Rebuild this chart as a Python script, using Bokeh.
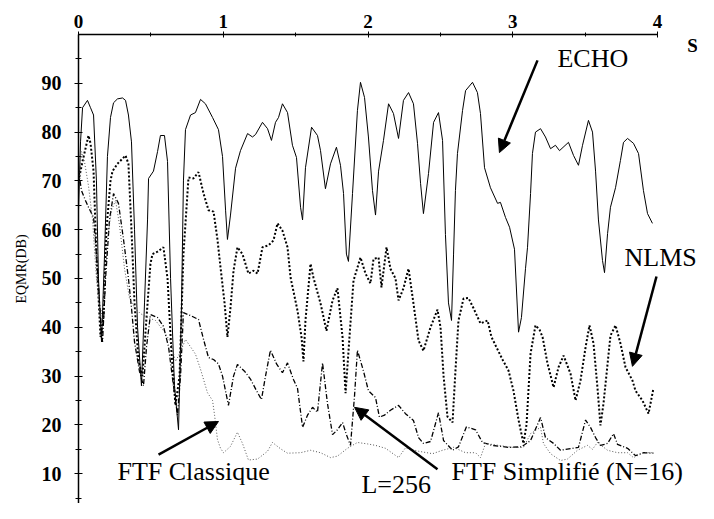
from bokeh.plotting import figure
from bokeh.models import FixedTicker, Label, Arrow, NormalHead, Range1d
from bokeh.embed import file_html
from bokeh.resources import INLINE

# ---- data (time in s, EQMR in dB) ----
echo_t = [0.000, 0.014, 0.028, 0.062, 0.083, 0.104, 0.124, 0.138, 0.159, 0.180, 0.200, 0.221, 0.242, 0.269,
          0.304, 0.325, 0.345, 0.366, 0.387, 0.408, 0.435, 0.456, 0.477, 0.484, 0.518, 0.546, 0.566, 0.594,
          0.615, 0.636, 0.663, 0.691, 0.712, 0.725, 0.739, 0.774, 0.808, 0.843, 0.877, 0.926, 0.967, 0.995,
          1.016, 1.029, 1.050, 1.085, 1.119, 1.168, 1.202, 1.223, 1.271, 1.306, 1.333, 1.361, 1.382, 1.409,
          1.444, 1.478, 1.506, 1.534, 1.548, 1.568, 1.610, 1.651, 1.672, 1.706, 1.741, 1.782, 1.810, 1.831,
          1.851, 1.865, 1.893, 1.927, 1.948, 1.976, 2.003, 2.031, 2.052, 2.073, 2.107, 2.142, 2.176, 2.211,
          2.245, 2.280, 2.314, 2.342, 2.363, 2.383, 2.418, 2.453, 2.487, 2.515, 2.535, 2.556, 2.577, 2.591,
          2.604, 2.618, 2.653, 2.674, 2.722, 2.756, 2.777, 2.805, 2.846, 2.895, 2.915, 2.950, 2.978, 3.012,
          3.040, 3.060, 3.088, 3.102, 3.123, 3.136, 3.157, 3.192, 3.226, 3.261, 3.295, 3.323, 3.385, 3.420,
          3.454, 3.482, 3.523, 3.551, 3.572, 3.592, 3.620, 3.634, 3.655, 3.675, 3.710, 3.744, 3.765, 3.793,
          3.834, 3.869, 3.903, 3.931, 3.965]
echo_v = [64, 78, 85, 86.5, 85, 83.5, 70, 50, 37, 55, 75, 83, 86, 86.8,
          87, 86.5, 83.5, 78, 60, 40, 28, 45, 62, 70.5, 72, 76, 79.3, 79.3,
          74, 50, 28, 19, 45, 70, 80.5, 83.5, 84, 86.7, 85.8, 83, 80.5, 75,
          64, 58, 63, 72.6, 76.2, 79.7, 79, 79.5, 82, 80.7, 78.3, 82, 83, 85.8,
          84, 77.3, 74.8, 64.6, 62, 72.7, 81, 79.3, 76.2, 68.4, 73.5, 76.9, 73.2, 67.4,
          55, 53.5, 67.4, 84.4, 90.2, 87.1, 79, 68, 63, 72, 78.3, 85.8, 83.8, 78.7,
          86.5, 88.1, 85.8, 77.7, 69.5, 63.3, 71.5, 82, 84, 78.3, 59, 45, 41.4, 55,
          68, 75.6, 84.4, 88.5, 90.2, 88.1, 83.8, 72.7, 68.6, 65.4, 65.6, 62.5, 60.5, 56,
          39, 42, 52, 56.4, 67.4, 75.6, 80, 80.7, 79, 76.6, 77.3, 76.2, 77.9, 75.2,
          73.2, 77.3, 82.4, 80, 72, 62, 53.7, 51.2, 59.2, 64.6, 68.6, 74.2, 77.9, 78.7,
          77.7, 75.6, 68, 63.3, 61.3]

nlms_t = [0.000, 0.028, 0.069, 0.083, 0.104, 0.124, 0.152, 0.173, 0.193, 0.221, 0.235, 0.269, 0.325, 0.345,
          0.366, 0.387, 0.415, 0.442, 0.470, 0.497, 0.511, 0.546, 0.587, 0.615, 0.642, 0.670, 0.698, 0.725,
          0.760, 0.794, 0.829, 0.864, 0.898, 0.933, 0.960, 0.981, 1.009, 1.029, 1.050, 1.071, 1.098, 1.133,
          1.174, 1.209, 1.237, 1.271, 1.313, 1.347, 1.375, 1.409, 1.444, 1.465, 1.513, 1.541, 1.554, 1.568,
          1.603, 1.623, 1.672, 1.713, 1.755, 1.789, 1.824, 1.845, 1.872, 1.900, 1.948, 1.983, 2.017, 2.038,
          2.073, 2.093, 2.128, 2.155, 2.190, 2.211, 2.245, 2.280, 2.314, 2.349, 2.383, 2.432, 2.480, 2.501,
          2.522, 2.549, 2.584, 2.604, 2.625, 2.660, 2.694, 2.729, 2.777, 2.826, 2.853, 2.881, 2.929, 2.971,
          3.005, 3.040, 3.074, 3.095, 3.123, 3.157, 3.185, 3.206, 3.240, 3.282, 3.316, 3.351, 3.399, 3.434,
          3.468, 3.503, 3.530, 3.558, 3.585, 3.606, 3.627, 3.675, 3.710, 3.744, 3.779, 3.827, 3.848, 3.896,
          3.938, 3.972]
nlms_v = [70, 74, 79.3, 77.7, 72, 55, 38, 42, 60, 70, 72, 73.5, 75.2, 73.5,
          60, 45, 33, 30, 42, 53, 55, 55.5, 56.4, 50, 35, 24, 30, 55,
          70.7, 70.5, 71.8, 67.4, 64, 63.7, 58, 52.3, 45, 38, 44, 51.6, 56.4, 55,
          51, 51.6, 51, 56.4, 56.8, 57.8, 61.3, 59.8, 56.4, 50.2, 43.4, 37.9, 33, 41.4,
          53, 50.2, 44.9, 39.3, 45.5, 48, 38, 26.5, 38, 49.6, 54.3, 51, 49, 54,
          54.3, 48.2, 56.4, 52, 50, 45.5, 48, 52, 44.9, 37.3, 35.2, 40, 43.6, 40,
          30, 21.7, 20.5, 31, 41.4, 45.9, 46, 43.9, 40.8, 41.4, 38, 36.3, 33.4, 31.1,
          27, 21, 16.2, 20, 34.6, 40.4, 39.5, 38, 32.6, 27.7, 31.8, 34.2, 30.5, 25,
          29.1, 35.9, 40.4, 36.7, 27.7, 19.9, 24.4, 38.3, 40.4, 36.7, 31.8, 29.1, 27, 25,
          22.3, 27.5]

ftfs_t = [0.000, 0.021, 0.048, 0.069, 0.104, 0.124, 0.145, 0.166, 0.187, 0.214, 0.242, 0.276, 0.311, 0.345,
          0.366, 0.387, 0.421, 0.449, 0.470, 0.497, 0.546, 0.587, 0.622, 0.656, 0.684, 0.705, 0.725, 0.774,
          0.829, 0.864, 0.898, 0.933, 0.967, 0.995, 1.036, 1.071, 1.098, 1.147, 1.188, 1.230, 1.264, 1.292,
          1.326, 1.368, 1.409, 1.444, 1.485, 1.513, 1.548, 1.582, 1.617, 1.651, 1.686, 1.720, 1.755, 1.789,
          1.824, 1.851, 1.879, 1.907, 1.927, 1.969, 2.003, 2.052, 2.079, 2.114, 2.155, 2.211, 2.259, 2.314,
          2.349, 2.383, 2.432, 2.487, 2.522, 2.584, 2.625, 2.680, 2.743, 2.791, 2.860, 2.971, 3.060, 3.123,
          3.192, 3.226, 3.282, 3.330, 3.413, 3.454, 3.503, 3.537, 3.572, 3.606, 3.655, 3.696, 3.724, 3.793,
          3.848, 3.903, 3.972]
ftfs_v = [72, 68, 66, 64.6, 62.5, 55, 45, 37, 50, 62, 67.4, 65.4, 58, 50,
          44, 37, 31, 28, 36, 42.6, 42, 40.2, 36, 28, 22, 30, 43, 42.4,
          41.6, 37.5, 33.8, 33.4, 32.5, 30, 24, 30, 32.4, 31, 29.4, 27, 25.2, 30,
          35.3, 32.5, 30.7, 32.7, 29.3, 27.5, 19.5, 22, 23.6, 22.6, 32.7, 24.4, 18, 19,
          20.5, 18, 15.8, 26, 35.3, 31, 27, 25.6, 21.6, 22, 23, 24, 22.3, 20.9,
          17.4, 16.2, 16.6, 22.5, 16.8, 14.8, 15.5, 19.6, 19, 16.4, 15.8, 15.4, 15.5, 16.8,
          21.5, 17.4, 16.2, 14.8, 15.2, 15.4, 21, 19.5, 17.4, 15.8, 16.2, 18.2, 16, 15.2,
          13.7, 14.3, 14.2]

ftfc_t = [0.000, 0.021, 0.041, 0.069, 0.097, 0.124, 0.152, 0.173, 0.200, 0.228, 0.256, 0.283, 0.318, 0.352,
          0.387, 0.428, 0.477, 0.532, 0.587, 0.636, 0.670, 0.705, 0.739, 0.774, 0.808, 0.843, 0.891, 0.926,
          0.940, 0.960, 0.981, 1.002, 1.050, 1.098, 1.133, 1.174, 1.237, 1.306, 1.340, 1.396, 1.444, 1.534,
          1.603, 1.672, 1.741, 1.789, 1.858, 1.927, 1.997, 2.052, 2.121, 2.211, 2.259, 2.349, 2.446, 2.515,
          2.591, 2.674, 2.743, 2.777, 2.812, 2.902, 2.998, 3.074, 3.123, 3.192, 3.212, 3.261, 3.330, 3.378,
          3.447, 3.516, 3.551, 3.585, 3.655, 3.724, 3.793, 3.834, 3.903, 3.965]
ftfc_v = [68, 76, 74, 69, 62, 50, 42, 45, 58, 64, 66, 61, 52, 46,
          44, 42.8, 42, 41.4, 39.3, 37, 33, 35, 37.5, 36, 34.5, 31.4, 26.6, 25,
          22, 17, 15.2, 14.3, 15.6, 18.5, 16.2, 12.8, 13, 14.6, 16.4, 15.1, 14.2, 14.3,
          14.8, 14.3, 13.3, 13.6, 15.2, 16.4, 16.1, 15.8, 15.2, 13.3, 15.3, 14.6, 14.1, 14.8,
          15.4, 14.3, 14.3, 13.3, 16.2, 15.8, 15.4, 15.4, 18.2, 19.5, 16.2, 14.1, 12.7, 13,
          14.8, 15.8, 15, 16.4, 14.8, 14.3, 14.3, 13.3, 14.3, 14.3]

x_ticks = [0, 1, 2, 3, 4]
x_minor = [0.5, 1.5, 2.5, 3.5]
y_ticks = [10, 20, 30, 40, 50, 60, 70, 80, 90]
y_minor = [5, 15, 25, 35, 45, 55, 65, 75, 85, 95]

SERIF = "Liberation Serif"

p = figure(width=698, height=503, output_backend="svg", toolbar_location=None,
           x_range=Range1d(0, 4.2763), y_range=Range1d(3.893, 100),
           x_axis_location="above", y_axis_location="left",
           min_border_left=78, min_border_right=1, min_border_top=34, min_border_bottom=0)
p.outline_line_color = None
p.grid.visible = False
p.background_fill_color = "white"
p.border_fill_color = "white"

xa = p.xaxis[0]
xa.bounds = (0, 4)
xa.ticker = FixedTicker(ticks=x_ticks, minor_ticks=x_minor)
xa.axis_line_width = 1.5
xa.axis_line_color = "black"
xa.major_tick_in = 3
xa.major_tick_out = 3
xa.minor_tick_in = 2
xa.minor_tick_out = 2
xa.major_label_text_font = SERIF
xa.major_label_text_font_style = "bold"
xa.major_label_text_font_size = "19px"
xa.major_label_text_color = "black"
xa.major_label_standoff = 4

ya = p.yaxis[0]
ya.ticker = FixedTicker(ticks=y_ticks, minor_ticks=y_minor)
ya.axis_line_width = 1.5
ya.axis_line_color = "black"
ya.major_tick_in = 4
ya.major_tick_out = 4
ya.minor_tick_in = 3
ya.minor_tick_out = 3
ya.major_label_text_font = SERIF
ya.major_label_text_font_style = "bold"
ya.major_label_text_font_size = "20px"
ya.major_label_text_color = "black"
ya.major_label_standoff = 13
ya.axis_label = "EQMR(DB)"
ya.axis_label_text_font = SERIF
ya.axis_label_text_font_style = "normal"
ya.axis_label_text_font_size = "14px"
ya.axis_label_text_color = "black"
ya.axis_label_standoff = 10

p.line(echo_t, echo_v, line_color="black", line_width=1)
p.line(nlms_t, nlms_v, line_color="black", line_width=2, line_dash="2 2")
p.line(ftfs_t, ftfs_v, line_color="black", line_width=1.3, line_dash="5 2 1 2")
p.line(ftfc_t, ftfc_v, line_color="#555555", line_width=1, line_dash="1 2")

def lab(x, y, t, size="26px"):
    p.add_layout(Label(x=x, y=y, text=t, text_font=SERIF, text_font_size=size,
                       text_color="black", text_baseline="alphabetic", text_align="left"))

lab(3.309, 95.0, "ECHO")
lab(3.772, 54.4, "NLMS")
lab(0.269, 10.4, "FTF Classique")
lab(2.577, 10.4, "FTF Simplifié (N=16)")
lab(1.955, 7.8, "L=256")

p.add_layout(Label(x=4.242, y=99.9, text="S", text_font=SERIF, text_font_size="19px",
                   text_font_style="bold", text_align="center", text_baseline="top",
                   text_color="black"))

def arrow(x0, y0, x1, y1):
    p.add_layout(Arrow(end=NormalHead(size=13, fill_color="black", line_color="black"),
                       x_start=x0, y_start=y0, x_end=x1, y_end=y1,
                       line_width=2.5, line_color="black"))

arrow(3.171, 94.7, 2.908, 75.8)
arrow(3.993, 50.4, 3.827, 32.0)
arrow(0.553, 13.9, 0.967, 20.7)
arrow(2.480, 10.9, 1.907, 23.6)

open("out.html", "w").write(file_html(p, INLINE))
